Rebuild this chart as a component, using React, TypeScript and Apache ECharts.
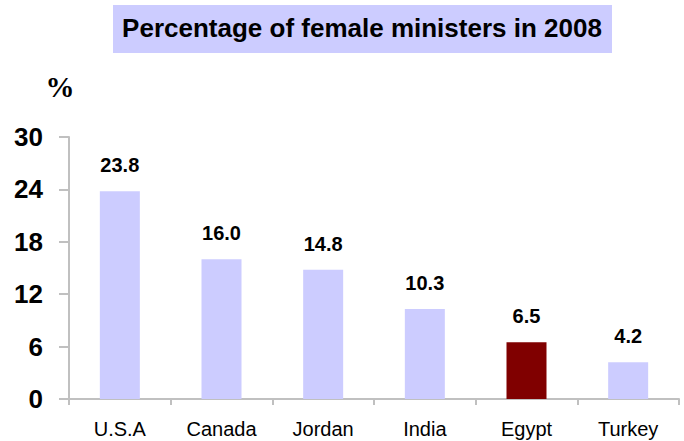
import React, { useEffect, useRef } from "react";
import * as echarts from "echarts";

const categories = ["U.S.A", "Canada", "Jordan", "India", "Egypt", "Turkey"];
const values = [23.8, 16.0, 14.8, 10.3, 6.5, 4.2];
const highlighted = ["Egypt"];
const yTicks = { min: 0, max: 30, interval: 6 };
const titleText = "Percentage of female ministers in 2008";
const unitText = "%";

export default function App() {
  const ref = useRef<HTMLDivElement>(null);
  useEffect(() => {
    if (!ref.current) return;
    const chart = echarts.init(ref.current, null, { renderer: "svg" });
    const font = "Liberation Sans, Arial, sans-serif";
    chart.setOption({
      animation: false,
      backgroundColor: "#ffffff",
      grid: { left: 69, right: 5, top: 137, bottom: 42 },
      graphic: [
        {
          type: "rect",
          shape: { x: 113, y: 5, width: 499, height: 48 },
          style: { fill: "#ccccff" },
          silent: true,
        },
        {
          type: "text",
          x: 362,
          y: 28,
          style: {
            text: titleText,
            fill: "#000000",
            fontSize: 26,
            fontWeight: "bold",
            fontFamily: font,
            textAlign: "center",
            textVerticalAlign: "middle",
          },
          silent: true,
        },
        {
          type: "text",
          x: 60,
          y: 87,
          style: {
            text: unitText,
            fill: "#000000",
            fontSize: 29,
            fontWeight: "bold",
            fontFamily: "Liberation Serif, DejaVu Serif, serif",
            textAlign: "center",
            textVerticalAlign: "middle",
          },
          silent: true,
        },
      ],
      xAxis: {
        type: "category",
        data: categories,
        boundaryGap: true,
        axisLine: { show: true, lineStyle: { color: "#c0c0c0", width: 2 } },
        axisTick: { show: true, length: 6, alignWithLabel: false, lineStyle: { color: "#c0c0c0", width: 2 } },
        axisLabel: { color: "#000000", fontSize: 20, fontFamily: font, margin: 20 },
        splitLine: { show: false },
      },
      yAxis: {
        type: "value",
        min: yTicks.min,
        max: yTicks.max,
        interval: yTicks.interval,
        axisLine: { show: true, lineStyle: { color: "#c0c0c0", width: 2 } },
        axisTick: { show: true, length: 10, lineStyle: { color: "#c0c0c0", width: 2 } },
        axisLabel: { color: "#000000", fontSize: 26, fontWeight: "bold", fontFamily: font, margin: 26 },
        splitLine: { show: false },
      },
      series: [
        {
          type: "bar",
          barWidth: 40,
          data: values.map((v, i) => ({
            value: v,
            itemStyle: { color: highlighted.includes(categories[i]) ? "#800000" : "#ccccff" },
          })),
          label: {
            show: true,
            position: "top",
            distance: 16,
            color: "#000000",
            fontSize: 20,
            fontWeight: "bold",
            fontFamily: font,
            formatter: (p: any) => Number(p.value).toFixed(1),
          },
        },
      ],
    });
    return () => chart.dispose();
  }, []);
  return (
    <div
      ref={ref}
      style={{ position: "fixed", left: 0, top: 0, width: 684, height: 441 }}
    />
  );
}
